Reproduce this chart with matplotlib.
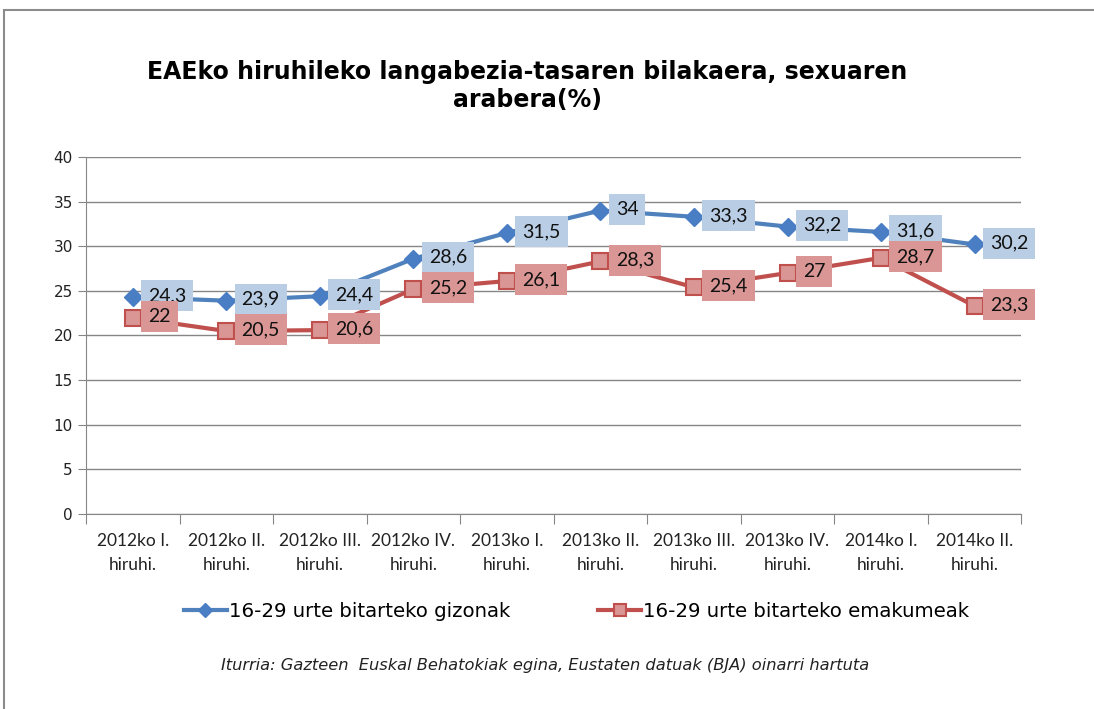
import matplotlib.pyplot as plt
import matplotlib.patches as patches

# ── data ─────────────────────────────────────────────
quarters = ['2012ko I.\nhiruhi.', '2012ko II.\nhiruhi.', '2012ko III.\nhiruhi.',
            '2012ko IV.\nhiruhi.', '2013ko I.\nhiruhi.', '2013ko II.\nhiruhi.',
            '2013ko III.\nhiruhi.', '2013ko IV.\nhiruhi.', '2014ko I.\nhiruhi.',
            '2014ko II.\nhiruhi.']
men = [24.3, 23.9, 24.4, 28.6, 31.5, 34, 33.3, 32.2, 31.6, 30.2]
women = [22, 20.5, 20.6, 25.2, 26.1, 28.3, 25.4, 27, 28.7, 23.3]
men_label = '16-29 urte bitarteko gizonak'
women_label = '16-29 urte bitarteko emakumeak'

title = 'EAEko hiruhileko langabezia-tasaren bilakaera, sexuaren\narabera(%)'
source = 'Iturria: Gazteen  Euskal Behatokiak egina, Eustaten datuak (BJA) oinarri hartuta'

plt.rcParams['font.family'] = ['DejaVu Sans']

fig = plt.figure(figsize=(10.94, 7.09), dpi=100)
ax = fig.add_axes([0.0786, 0.275, 0.855, 0.5036])

# chart frame (top-left corner visible, rest runs off the image)
fig.patches.append(patches.Rectangle((0.004, -0.1), 1.1, 1.086, transform=fig.transFigure,
                                     fill=False, edgecolor='#8c8c8c', linewidth=1.5))

x = range(len(quarters))
ax.plot(x, men, color='#4F81BD', lw=3, marker='D', markersize=9,
        markerfacecolor='#4A7EC4', markeredgecolor='#4A7EC4', label=men_label, zorder=3)
ax.plot(x, women, color='#C0504D', lw=3, marker='s', markersize=11,
        markerfacecolor='#D99694', markeredgecolor='#C0504D', markeredgewidth=1.5,
        label=women_label, zorder=3)

# data labels
for vals, fc in [(men, '#B9CDE5'), (women, '#D99694')]:
    for xi, v in zip(x, vals):
        txt = f'{v:g}'.replace('.', ',')
        ax.annotate(txt, (xi, v), xytext=(11, 1), textcoords='offset points',
                    ha='left', va='center', fontsize=14, family='Lato', color='#111111',
                    bbox=dict(boxstyle='square,pad=0.36', fc=fc, ec='none'), zorder=4)

ax.set_xlim(-0.5, len(quarters) - 0.5)
ax.set_ylim(0, 40)
ax.set_yticks(range(0, 41, 5))
ax.grid(axis='y', color='#868686', lw=1)
ax.set_axisbelow(True)

# category boundaries as major ticks, labels on minor ticks
ax.set_xticks([i - 0.5 for i in range(len(quarters) + 1)])
ax.set_xticklabels([])
ax.set_xticks(list(x), minor=True)
ax.set_xticklabels(quarters, minor=True, family='Lato', fontsize=12.5, color='#222222',
                   linespacing=1.55)
ax.tick_params(axis='x', which='major', length=7, color='#868686', direction='out')
ax.tick_params(axis='x', which='minor', length=0, pad=14)
ax.tick_params(axis='y', length=6, color='#868686', labelsize=11, labelcolor='#222222')

for s in ['top', 'right']:
    ax.spines[s].set_visible(False)
for s in ['left', 'bottom']:
    ax.spines[s].set_color('#868686')

fig.text(0.482, 0.879, title, ha='center', va='center', fontsize=17, fontweight='bold',
         linespacing=1.2)

fig.legend(loc='center', bbox_to_anchor=(0.527, 0.138), ncol=2, frameon=False,
           fontsize=14.2, handlelength=2.2, columnspacing=4.45, handletextpad=0.1,
           markerscale=0.8)

fig.text(0.498, 0.062, source, ha='center', va='center', fontsize=11.7, style='italic',
         color='#222222')

fig.savefig('out.png', dpi=100)
